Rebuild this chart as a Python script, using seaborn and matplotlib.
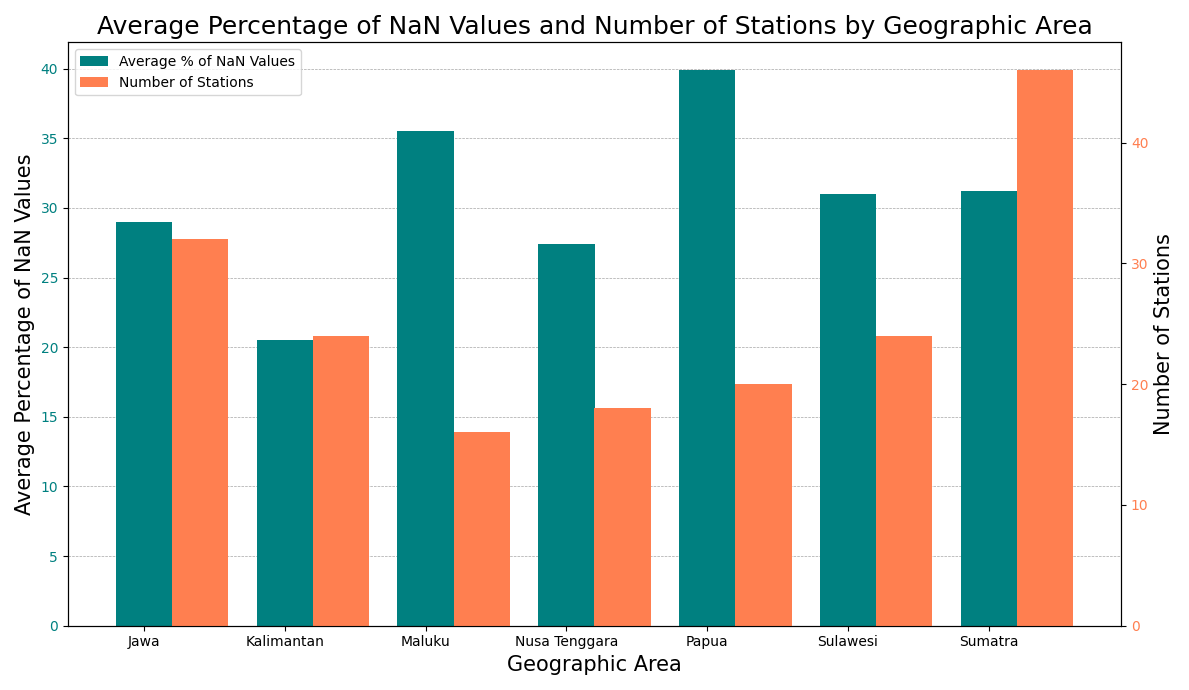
import numpy as np
import matplotlib
matplotlib.use("Agg")
import matplotlib.pyplot as plt
import seaborn as sns

# Data
areas = ["Jawa", "Kalimantan", "Maluku", "Nusa Tenggara", "Papua", "Sulawesi", "Sumatra"]
avg_nan = [29.0, 20.5, 35.55, 27.4, 39.9, 31.0, 31.2]
n_stations = [32, 24, 16, 18, 20, 24, 46]

# plain matplotlib look, as in the reference
sns.reset_defaults()
plt.rcParams["font.family"] = ["DejaVu Sans"]

fig, ax1 = plt.subplots(figsize=(11.89, 6.9), dpi=100)
x = np.arange(len(areas))
width = 0.4

b1 = ax1.bar(x, avg_nan, width, color="teal", label="Average % of NaN Values", zorder=2)
ax1.set_xlabel("Geographic Area", fontsize=15)
ax1.set_ylabel("Average Percentage of NaN Values", fontsize=15)
ax1.tick_params(axis="y", labelcolor="teal")
ax1.set_xticks(x)
ax1.set_xticklabels(areas)
ax1.yaxis.grid(True, linestyle="--", linewidth=0.5, color="gray", alpha=0.7)
ax1.set_axisbelow(True)

ax2 = ax1.twinx()
b2 = ax2.bar(x + width, n_stations, width, color="coral", label="Number of Stations", zorder=2)
ax2.set_ylabel("Number of Stations", fontsize=15)
ax2.tick_params(axis="y", labelcolor="coral")

ax1.legend([b1, b2], [b1.get_label(), b2.get_label()], loc="upper left")
ax1.set_title("Average Percentage of NaN Values and Number of Stations by Geographic Area", fontsize=18)

fig.tight_layout()
fig.savefig("out.png", dpi=100)
